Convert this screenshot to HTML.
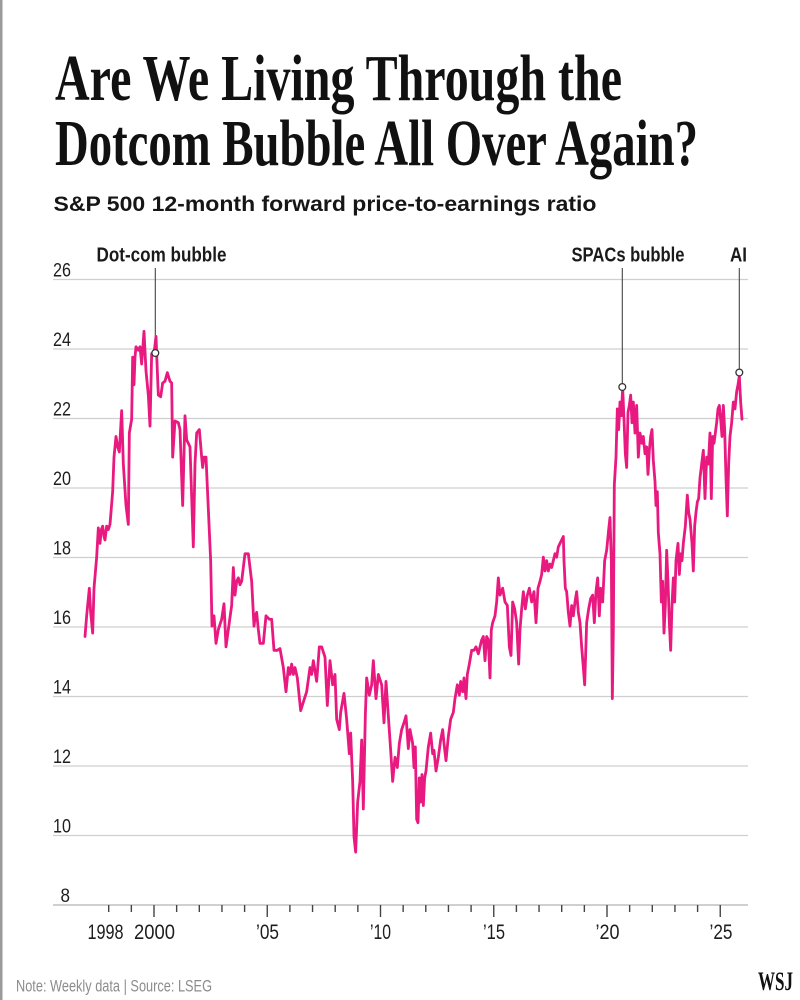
<!DOCTYPE html>
<html>
<head>
<meta charset="utf-8">
<style>
  html,body{margin:0;padding:0;background:#fff;}
  svg{display:block;}
</style>
</head>
<body>
<svg width="800" height="1000" viewBox="0 0 800 1000" xmlns="http://www.w3.org/2000/svg">
  <rect x="0" y="0" width="800" height="1000" fill="#ffffff"/>
  <rect x="0" y="0" width="2.5" height="1000" fill="#9a9a9a"/>

  <!-- Title -->
  <text x="55" y="100" font-family="Liberation Serif, serif" font-weight="bold" font-size="66" fill="#111" textLength="567" lengthAdjust="spacingAndGlyphs">Are We Living Through the</text>
  <text x="55" y="165" font-family="Liberation Serif, serif" font-weight="bold" font-size="66" fill="#111" textLength="643" lengthAdjust="spacingAndGlyphs">Dotcom Bubble All Over Again?</text>

  <!-- Subtitle -->
  <text x="53.5" y="211" font-family="Liberation Sans, sans-serif" font-weight="bold" font-size="21.5" fill="#161616" textLength="543" lengthAdjust="spacingAndGlyphs">S&amp;P 500 12-month forward price-to-earnings ratio</text>

  <!-- Gridlines -->
  <g stroke="#cfcfcf" stroke-width="1.2">
    <line x1="53" y1="279.5" x2="748" y2="279.5"/>
    <line x1="53" y1="349" x2="748" y2="349"/>
    <line x1="53" y1="418.5" x2="748" y2="418.5"/>
    <line x1="53" y1="488" x2="748" y2="488"/>
    <line x1="53" y1="557.5" x2="748" y2="557.5"/>
    <line x1="53" y1="627" x2="748" y2="627"/>
    <line x1="53" y1="696.5" x2="748" y2="696.5"/>
    <line x1="53" y1="766" x2="748" y2="766"/>
    <line x1="53" y1="835.5" x2="748" y2="835.5"/>
  </g>
  <line x1="53" y1="905" x2="748" y2="905" stroke="#b5b5b5" stroke-width="1.3"/>

  <!-- Y labels -->
  <g font-family="Liberation Sans, sans-serif" font-size="19.5" fill="#1e1e1e" text-anchor="end">
    <text x="71" y="276.5" textLength="18" lengthAdjust="spacingAndGlyphs">26</text>
    <text x="71" y="346" textLength="18" lengthAdjust="spacingAndGlyphs">24</text>
    <text x="71" y="415.5" textLength="18" lengthAdjust="spacingAndGlyphs">22</text>
    <text x="71" y="485" textLength="18" lengthAdjust="spacingAndGlyphs">20</text>
    <text x="71" y="554.5" textLength="18" lengthAdjust="spacingAndGlyphs">18</text>
    <text x="71" y="624" textLength="18" lengthAdjust="spacingAndGlyphs">16</text>
    <text x="71" y="693.5" textLength="18" lengthAdjust="spacingAndGlyphs">14</text>
    <text x="71" y="763" textLength="18" lengthAdjust="spacingAndGlyphs">12</text>
    <text x="71" y="832.5" textLength="18" lengthAdjust="spacingAndGlyphs">10</text>
    <text x="70" y="902" textLength="9.5" lengthAdjust="spacingAndGlyphs">8</text>
  </g>

  <!-- X ticks -->
  <g stroke="#444" stroke-width="1.4">
    <line x1="108.7" y1="905" x2="108.7" y2="912"/>
    <line x1="131.35" y1="905" x2="131.35" y2="912"/>
    <line x1="154" y1="905" x2="154" y2="917"/>
    <line x1="176.65" y1="905" x2="176.65" y2="912"/>
    <line x1="199.3" y1="905" x2="199.3" y2="912"/>
    <line x1="221.95" y1="905" x2="221.95" y2="912"/>
    <line x1="244.6" y1="905" x2="244.6" y2="912"/>
    <line x1="267.25" y1="905" x2="267.25" y2="917"/>
    <line x1="289.9" y1="905" x2="289.9" y2="912"/>
    <line x1="312.55" y1="905" x2="312.55" y2="912"/>
    <line x1="335.2" y1="905" x2="335.2" y2="912"/>
    <line x1="357.85" y1="905" x2="357.85" y2="912"/>
    <line x1="380.5" y1="905" x2="380.5" y2="917"/>
    <line x1="403.15" y1="905" x2="403.15" y2="912"/>
    <line x1="425.8" y1="905" x2="425.8" y2="912"/>
    <line x1="448.45" y1="905" x2="448.45" y2="912"/>
    <line x1="471.1" y1="905" x2="471.1" y2="912"/>
    <line x1="493.75" y1="905" x2="493.75" y2="917"/>
    <line x1="516.4" y1="905" x2="516.4" y2="912"/>
    <line x1="539.05" y1="905" x2="539.05" y2="912"/>
    <line x1="561.7" y1="905" x2="561.7" y2="912"/>
    <line x1="584.35" y1="905" x2="584.35" y2="912"/>
    <line x1="607" y1="905" x2="607" y2="917"/>
    <line x1="629.65" y1="905" x2="629.65" y2="912"/>
    <line x1="652.3" y1="905" x2="652.3" y2="912"/>
    <line x1="674.95" y1="905" x2="674.95" y2="912"/>
    <line x1="697.6" y1="905" x2="697.6" y2="912"/>
    <line x1="720.25" y1="905" x2="720.25" y2="917"/>
  </g>

  <!-- X labels -->
  <g font-family="Liberation Sans, sans-serif" font-size="21" fill="#1e1e1e" text-anchor="middle">
    <text x="105.5" y="939" textLength="36" lengthAdjust="spacingAndGlyphs">1998</text>
    <text x="154.5" y="939" textLength="41" lengthAdjust="spacingAndGlyphs">2000</text>
    <text x="267.5" y="939" textLength="23" lengthAdjust="spacingAndGlyphs">’05</text>
    <text x="380.5" y="939" textLength="21" lengthAdjust="spacingAndGlyphs">’10</text>
    <text x="494" y="939" textLength="22" lengthAdjust="spacingAndGlyphs">’15</text>
    <text x="607.5" y="939" textLength="24" lengthAdjust="spacingAndGlyphs">’20</text>
    <text x="721" y="939" textLength="23" lengthAdjust="spacingAndGlyphs">’25</text>
  </g>

  <!-- Annotation leader lines -->
  <g stroke="#444" stroke-width="1.1">
    <line x1="155.3" y1="268" x2="155.3" y2="349.5"/>
    <line x1="622.3" y1="268" x2="622.3" y2="383.5"/>
    <line x1="739.3" y1="268" x2="739.3" y2="369"/>
  </g>

  <!-- Series -->
  <g fill="none" stroke="#e8197f" stroke-width="2.8" stroke-linejoin="round" stroke-linecap="round">
    <polyline vector-effect="non-scaling-stroke" transform="translate(80,319.2) scale(0.33333,0.3449)" points="15,920 20,860 28,780 32,850 38,910 42,780 50,690 55,605 58,640 60,650 64,610 68,600 72,630 75,640 80,600 85,610 90,595 98,500 102,400 108,340 113,370 118,385 125,265 130,420 138,540 145,595 148,330 155,290 158,110 162,190 165,110 168,80 175,90 180,80 185,130 192,35 198,150 205,220 210,310 215,100 222,100 228,50 232,150 235,220 242,225 248,185 255,180 262,155 270,180 275,185 278,400 285,295 295,300 300,320 308,540 315,280 320,350 330,370 340,660 345,420 350,330 358,320 365,400 368,430 372,400 378,400 385,550 392,700 396,890 402,860 408,940 415,900 425,870 432,825 438,950 445,900 455,830 460,720 465,800 470,760 475,750 480,770 485,760 495,680 505,680 515,760 522,890 526,860 530,850 535,900 540,940 550,940 558,860 568,870 575,870 582,960 592,960 600,955 610,1010 618,1080 625,1010 630,1030 635,1000 640,1030 645,1010 652,1040 662,1135 670,1110 680,1080 690,1010 695,1030 700,990 705,1020 710,1050 718,950 725,950 735,980 742,1120 750,990 758,1060 765,1030 770,1160 778,1190 782,1140 792,1085 800,1160 808,1260 812,1200 818,1340 822,1500 827,1545 833,1400 840,1340 845,1220 850,1420 856,1150 860,1040 868,1090 875,1060 880,990 888,1100 895,1030 905,1060 912,1170 918,1050 925,1150 932,1250 938,1340 945,1270 952,1300 958,1230 965,1190 972,1170 978,1150 985,1245 990,1190"/>
    <polyline vector-effect="non-scaling-stroke" transform="translate(410,319.2) scale(0.33333,0.3449)" points="0,1190 8,1230 12,1300 16,1240 20,1450 24,1460 28,1330 32,1400 36,1320 40,1410 44,1330 48,1310 55,1240 62,1200 68,1260 72,1250 78,1310 85,1270 92,1220 98,1190 102,1230 108,1280 115,1210 122,1160 130,1140 135,1100 142,1060 148,1090 152,1050 158,1080 162,1040 168,1100 172,1030 178,1000 185,960 192,960 198,950 205,970 210,950 215,930 220,920 225,990 230,920 235,930 240,1040 244,900 248,880 255,860 260,820 265,750 270,800 278,780 285,820 292,830 298,950 303,975 308,820 314,840 320,880 326,1000 330,900 335,840 340,790 346,840 352,800 358,780 365,820 372,790 378,880 384,780 390,760 395,740 400,690 405,730 410,700 415,730 420,710 425,720 430,700 435,680 440,690 445,660 450,650 455,640 460,630 462,700 466,780 470,790 475,850 480,890 485,830 490,860 495,820 500,790 505,850 510,880 515,950 520,1010 524,1060 530,880 536,840 542,810 548,800 553,880 558,790 563,750 568,860 572,780 578,820 584,700 590,670 596,610 600,575 604,700 607,1100 610,900 613,480 618,400 622,260 626,320 630,240 634,280 638,200 642,290 646,390 650,430 654,270 658,250 662,220 666,300 670,240 675,330 680,250 685,400 690,330 696,360 700,340 705,390 710,370 714,450 718,380 722,340 726,320 730,410 735,470 738,540 742,500 745,620 750,680 754,820 758,760 762,910 766,830 770,670 774,760 778,880 782,960 786,830 790,750 794,820 798,700 804,650 808,740 812,680 816,700 820,650 826,600 832,510 836,560 840,580 846,650 850,730 854,600 858,560 862,530 866,520 870,460 875,420 880,380 885,520 890,400 895,420 900,330 904,520 908,340 912,360 916,330 920,300 924,260 928,250 932,290 936,340 940,250 944,320 948,460 952,570 956,420 960,340 965,300 970,240 975,260 980,210 984,190 988,165 992,240 996,290"/>
  </g>

  <!-- Annotation circles -->
  <g fill="#fff" stroke="#333" stroke-width="1.3">
    <circle cx="155.3" cy="353" r="3.4"/>
    <circle cx="622.3" cy="387" r="3.4"/>
    <circle cx="739.3" cy="372.5" r="3.4"/>
  </g>

  <!-- Annotation labels -->
  <g font-family="Liberation Sans, sans-serif" font-weight="bold" font-size="20" fill="#1a1a1a">
    <text x="96.5" y="261.5" textLength="130" lengthAdjust="spacingAndGlyphs">Dot-com bubble</text>
    <text x="571.5" y="261.5" textLength="113" lengthAdjust="spacingAndGlyphs">SPACs bubble</text>
    <text x="730" y="261.5" textLength="17" lengthAdjust="spacingAndGlyphs">AI</text>
  </g>

  <!-- Footer -->
  <text x="16" y="991.5" font-family="Liberation Sans, sans-serif" font-size="17" fill="#8c8c8c" textLength="196" lengthAdjust="spacingAndGlyphs">Note: Weekly data | Source: LSEG</text>
  <text x="758" y="990" font-family="Liberation Serif, serif" font-weight="bold" font-size="26" fill="#111" textLength="35" lengthAdjust="spacingAndGlyphs">WSJ</text>
</svg>
</body>
</html>
